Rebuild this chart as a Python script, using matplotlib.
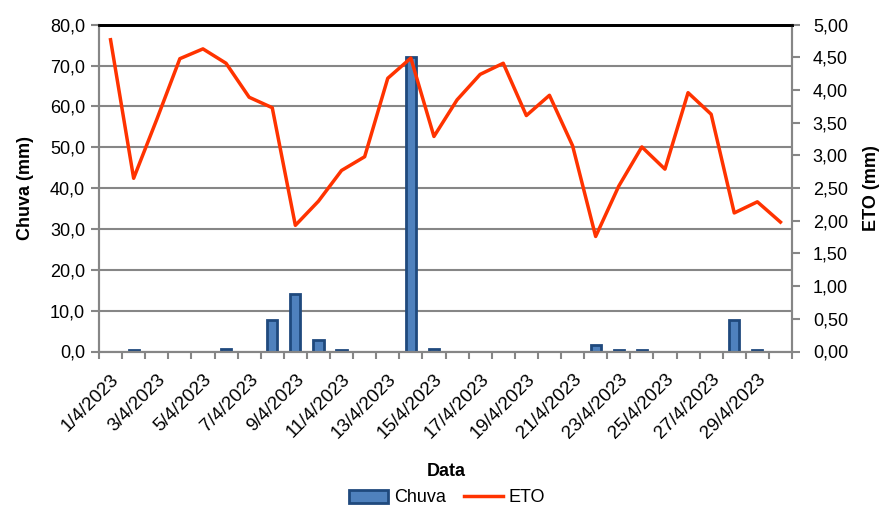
import matplotlib
matplotlib.use("Agg")
import matplotlib.pyplot as plt
import matplotlib.transforms as mtrans
import numpy as np
from matplotlib.ticker import FuncFormatter
from matplotlib.patches import Patch
from matplotlib.lines import Line2D

plt.rcParams['font.family'] = ['Liberation Sans', 'DejaVu Sans']

dates = [f"{d}/4/2023" for d in range(1, 31)]
chuva = [0, 0.3, 0, 0, 0, 0.5, 0, 7.8, 14.1, 2.9, 0.3, 0, 0, 72.0, 0.5,
         0, 0, 0, 0, 0, 0, 1.6, 0.4, 0.4, 0, 0, 0, 7.8, 0.4, 0]
eto = [4.77, 2.65, 3.55, 4.48, 4.63, 4.41, 3.89, 3.73, 1.93, 2.30,
       2.77, 2.98, 4.18, 4.49, 3.29, 3.85, 4.24, 4.41, 3.61, 3.92,
       3.15, 1.76, 2.53, 3.13, 2.79, 3.96, 3.63, 2.12, 2.29, 1.98]
left_ticks = np.arange(0, 81, 10)
right_ticks = np.arange(0, 5.01, 0.5)

W, H = 886, 531
fig = plt.figure(figsize=(8.86, 5.31), dpi=100)
ax_l, ax_r, ax_t, ax_b = 99, 792, 24.7, 351.5
ax = fig.add_axes([ax_l/W, 1 - ax_b/H, (ax_r - ax_l)/W, (ax_b - ax_t)/H])
x = np.arange(len(dates))
grid_c = '#868686'

def fx(px):
    return (px - ax_l) / (ax_r - ax_l)

def fy(py):
    return (ax_b - py) / (ax_b - ax_t)

ax.set_axisbelow(True)
ax.yaxis.grid(True, color=grid_c, linewidth=1.5)
ax.bar(x, chuva, width=0.44, color='#4f81bd', edgecolor='#1f497d', linewidth=2, zorder=2)
ax.set_xlim(-0.5, len(dates) - 0.5)
ax.set_ylim(0, 80)
ax.set_yticks(left_ticks)
ax.yaxis.set_major_formatter(FuncFormatter(lambda v, p: f"{v:.1f}".replace('.', ',')))
ax.set_xticks(np.arange(-0.5, len(dates), 1), minor=False)
ax.set_xticklabels([])
ax.set_xticks(x[::2], minor=True)
labels = ax.set_xticklabels(dates[::2], minor=True, rotation=45, ha='right', va='top',
                            rotation_mode='anchor', fontsize=13.5)
off = mtrans.ScaledTranslation(4/100, 0, fig.dpi_scale_trans)
for t in labels:
    t.set_transform(t.get_transform() + off)
ax.tick_params(axis='x', which='minor', length=0, pad=14)
ax.tick_params(axis='x', which='major', length=5, color=grid_c, width=1.5)
ax.tick_params(axis='y', length=6, color=grid_c, width=1.5, labelsize=13, pad=4)
for s in ['left', 'bottom', 'right']:
    ax.spines[s].set_color(grid_c)
    ax.spines[s].set_linewidth(1.5)
ax.spines['top'].set_color('black')
ax.spines['top'].set_linewidth(2)
ax.set_ylabel('Chuva (mm)', fontsize=13, fontweight='bold', va='center')
ax.yaxis.set_label_coords(fx(25), 0.5)
ax.set_xlabel('Data', fontsize=13, fontweight='bold', va='center')
ax.xaxis.set_label_coords(fx(446), fy(472))

ax2 = ax.twinx()
ax2.plot(x, eto, color='#ff3300', linewidth=2.5, zorder=3)
ax2.set_ylim(0, 5)
ax2.set_yticks(right_ticks)
ax2.yaxis.set_major_formatter(FuncFormatter(lambda v, p: f"{v:.2f}".replace('.', ',')))
ax2.tick_params(axis='y', length=6, color=grid_c, width=1.5, labelsize=13, pad=9)
for s in ['left', 'bottom', 'right']:
    ax2.spines[s].set_color(grid_c)
    ax2.spines[s].set_linewidth(1.5)
ax2.spines['top'].set_color('black')
ax2.spines['top'].set_linewidth(2)
ax2.set_ylabel('ETO (mm)', fontsize=13, fontweight='bold', va='center')
ax2.yaxis.set_label_coords(fx(872), 0.5)

handles = [Patch(facecolor='#4f81bd', edgecolor='#1f497d', linewidth=2),
           Line2D([0], [0], color='#ff3300', linewidth=2.5)]
fig.legend(handles, ['Chuva', 'ETO'], loc='center', bbox_to_anchor=(447/W, 1 - 498/H),
           ncol=2, frameon=False, fontsize=13, handlelength=2.2, columnspacing=1.0,
           handletextpad=0.3)

fig.savefig('out.png', dpi=100)
